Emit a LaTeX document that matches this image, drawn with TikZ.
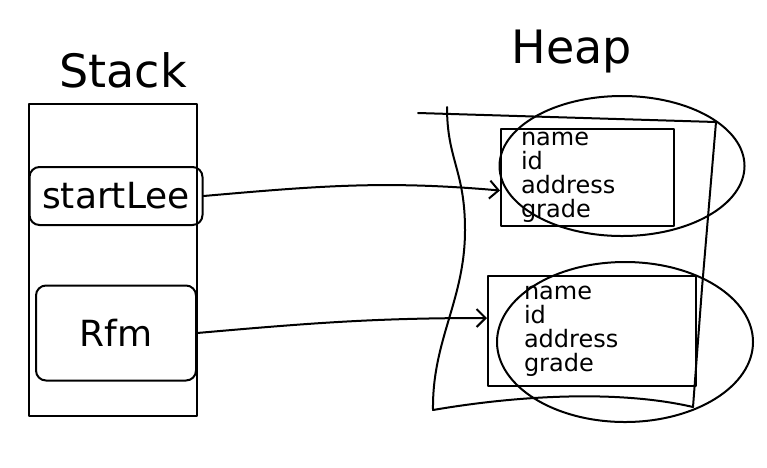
\documentclass[tikz,border=0pt]{standalone}
\usepackage{fontspec}
\setmainfont{DejaVu Sans}
\usetikzlibrary{shapes.geometric,arrows.meta}
\begin{document}
\begin{tikzpicture}[x=1pt,y=-1pt, line width=2pt, line cap=round, line join=round,
 title/.style={font=\fontsize{46}{46}\selectfont, inner sep=0pt},
 frame/.style={draw, rectangle, inner sep=0pt},
 var/.style={draw, rectangle, rounded corners=10pt, font=\fontsize{36}{36}\selectfont, inner sep=0pt},
 obj/.style={draw, rectangle, align=left, font=\fontsize{24}{24}\selectfont, inner ysep=0pt, anchor=north west},
 blob/.style={draw, ellipse, inner sep=0pt},
 ptr/.style={-{Straight Barb[length=9pt,width=18pt]}}]
\useasboundingbox (0,0) rectangle (767,467);
% Stack side
\node[title] (stacklbl) at (123,70) {Stack};
\node[frame, minimum width=168pt, minimum height=312pt] (stack) at (113,260) {};
\node[var, minimum width=173pt, minimum height=58pt] (startlee) at (116,196) {startLee};
\node[var, minimum width=160pt, minimum height=95pt] (rfm) at (116,333) {Rfm};
% Heap side
\node[title] (heaplbl) at (572,52) {Heap};
\draw (447,107) .. controls (447,160) and (465,170) .. (465,230)
  .. controls (465,300) and (432,340) .. (433,410)
  .. controls (520,395) and (620,390) .. (693,407) -- (702,288) -- (716,122);
\draw (418,113) -- (716,122);
\node[obj, minimum width=173pt, minimum height=97pt, inner xsep=20pt, text width=133pt] (obj1) at (500,128)
  {name\\id\\address\\grade};
\node[obj, minimum width=208pt, minimum height=110pt, inner xsep=36pt, text width=136pt] (obj2) at (487,275)
  {name\\id\\address\\grade};
\node[blob, minimum width=245pt, minimum height=140pt] (blob1) at (622,166) {};
\node[blob, minimum width=256pt, minimum height=160pt] (blob2) at (625,342) {};
% pointers
\draw[ptr] (startlee.east) to[out=5,in=175] ([yshift=-13pt]obj1.west);
\draw[ptr] (rfm.east) to[out=5,in=180] ([yshift=13pt]obj2.west);
\end{tikzpicture}
\end{document}
